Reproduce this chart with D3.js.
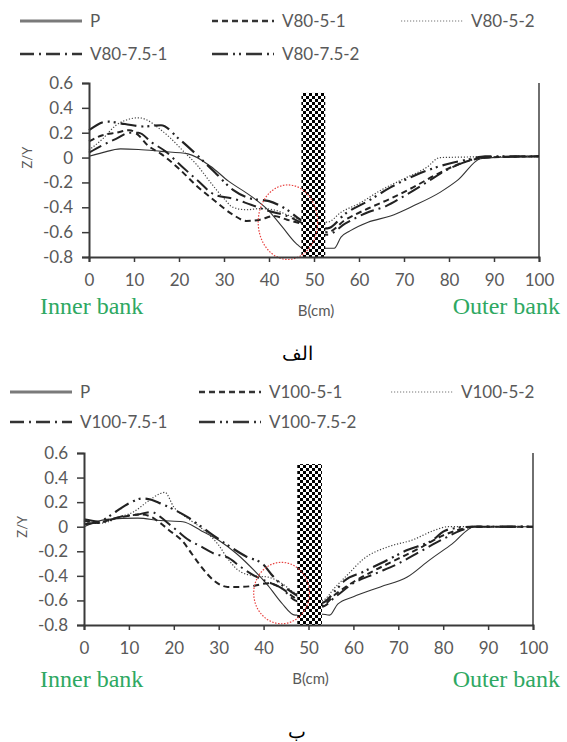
<!DOCTYPE html>
<html>
<head>
<meta charset="utf-8">
<script src="https://cdn.jsdelivr.net/npm/d3@7"></script>
<style>
  body { margin: 0; background: #fff; }
  svg { display: block; }
  .tick text { font-family: Lato, "Open Sans", sans-serif; fill: #595959; }
  .legend text { font-family: Lato, "Open Sans", sans-serif; fill: #595959; font-size: 17px; }
  .bank { font-family: "Liberation Serif", "DejaVu Serif", serif; fill: #2ea862; font-size: 24px; }
  .caption { font-family: "DejaVu Serif", "Noto Sans", serif; fill: #000; font-size: 19px; }
</style>
</head>
<body>
<svg id="chart" width="567" height="742"></svg>
<script>
"use strict";

// ---- data ----
var xTicks = [0, 10, 20, 30, 40, 50, 60, 70, 80, 90, 100];
var yTicks = [0.6, 0.4, 0.2, 0, -0.2, -0.4, -0.6, -0.8];
var yTickLabels = ["0.6", "0.4", "0.2", "0", "-0.2", "-0.4", "-0.6", "-0.8"];

var names80 = ["P", "V80-5-1", "V80-5-2", "V80-7.5-1", "V80-7.5-2"];
var names100 = ["P", "V100-5-1", "V100-5-2", "V100-7.5-1", "V100-7.5-2"];
var captions = ["الف", "ب"];

// pier (checkered bar) : [from B, to B, top Z]
var pier80 = [47.2, 52.5, 0.52];
var pier100 = [47.5, 53.0, 0.51];
// red circle : [centre B, centre Z, radius B, radius Z]
var ring80 = [44.2, -0.52, 6.6, 0.30];
var ring100 = [44.0, -0.54, 6.2, 0.25];

// panel 1 (V80)
var v80P = [[0, 0.01], [3, 0.04], [7, 0.07], [11, 0.065], [16, 0.05], [22, 0.03], [27, -0.07], [31, -0.19],
  [36, -0.31], [40, -0.43], [43, -0.56], [46, -0.69], [48, -0.74], [52.5, -0.73], [54.5, -0.73], [56, -0.64],
  [58, -0.59], [62, -0.52], [67, -0.47], [72, -0.39], [78, -0.28], [82, -0.18], [87, -0.01], [90, 0.0], [100, 0.01]];
var v80s51 = [[0, 0.13], [3, 0.18], [6, 0.2], [9, 0.22], [11, 0.18], [13, 0.1], [16, 0.03], [20, -0.09],
  [24, -0.23], [28, -0.35], [32, -0.46], [35, -0.51], [38, -0.5], [41, -0.47], [44, -0.5], [47, -0.53],
  [53, -0.6], [57, -0.5], [62, -0.41], [67, -0.33], [72, -0.24], [77, -0.14], [81, -0.07], [85, -0.02], [88, 0.0], [100, 0.01]];
var v80s52 = [[0, 0.06], [3, 0.15], [6, 0.26], [9, 0.31], [11, 0.32], [13, 0.3], [15, 0.25], [18, 0.16],
  [21, 0.05], [24, -0.06], [27, -0.2], [30, -0.33], [32, -0.4], [35, -0.42], [38, -0.41], [41, -0.42],
  [44, -0.46], [47, -0.5], [53, -0.52], [56, -0.44], [60, -0.37], [65, -0.26], [70, -0.17], [75, -0.08], [78, 0.0], [100, 0.01]];
var v80s71 = [[0, 0.04], [3, 0.1], [6, 0.15], [9, 0.2], [11, 0.2], [14, 0.12], [17, 0.05], [20, -0.05],
  [24, -0.18], [28, -0.3], [32, -0.33], [36, -0.38], [40, -0.43], [44, -0.47], [47, -0.52],
  [53, -0.62], [57, -0.53], [62, -0.44], [66, -0.39], [70, -0.31], [75, -0.2], [80, -0.09], [84, -0.03], [87, 0.0], [100, 0.01]];
var v80s72 = [[0, 0.22], [4, 0.29], [8, 0.27], [12, 0.25], [16, 0.26], [20, 0.15], [24, 0.02], [28, -0.12],
  [32, -0.26], [36, -0.33], [40, -0.35], [44, -0.42], [47, -0.5], [53, -0.57], [57, -0.45], [62, -0.35],
  [67, -0.24], [72, -0.15], [77, -0.08], [81, -0.04], [85, -0.01], [88, 0.01], [100, 0.01]];

// panel 2 (V100)
var v100P = [[0, 0], [5, 0.06], [12, 0.07], [17, 0.05], [22, 0.04], [26, -0.03], [30, -0.11], [34, -0.22],
  [38, -0.36], [41, -0.48], [44, -0.62], [47, -0.72], [52.8, -0.71], [54.7, -0.72], [56.5, -0.63], [60, -0.57],
  [66, -0.49], [72, -0.41], [77, -0.27], [82, -0.14], [87, 0.0], [100, 0.0]];
var v100s51 = [[0, 0.05], [3, 0.03], [6, 0.06], [10, 0.09], [13, 0.1], [15, 0.08], [17, 0.03], [19, -0.03],
  [22, -0.12], [24, -0.22], [26, -0.32], [29, -0.44], [32, -0.49], [35, -0.49], [38, -0.48], [41, -0.46],
  [44, -0.5], [47, -0.58], [53, -0.64], [56, -0.55], [60, -0.45], [65, -0.35], [70, -0.26], [75, -0.17],
  [80, -0.07], [84, -0.02], [87, 0.0], [100, 0.0]];
var v100s52 = [[0, 0.03], [4, 0.03], [8, 0.08], [11, 0.12], [14, 0.2], [17, 0.27], [18, 0.28], [20, 0.16],
  [23, 0.07], [25, 0.02], [28, -0.07], [30, -0.15], [32, -0.26], [35, -0.37], [38, -0.4], [41, -0.41],
  [44, -0.46], [47, -0.54], [53, -0.6], [56, -0.49], [59, -0.38], [62, -0.27], [68, -0.16], [73, -0.11],
  [78, -0.03], [81, 0.0], [100, 0.0]];
var v100s71 = [[0, 0.06], [4, 0.04], [8, 0.08], [12, 0.1], [15, 0.12], [17, 0.08], [19, 0.02], [21, -0.04],
  [23, -0.1], [26, -0.16], [29, -0.22], [32, -0.25], [35, -0.33], [38, -0.4], [41, -0.45], [44, -0.5],
  [47, -0.6], [53, -0.65], [56, -0.57], [60, -0.46], [65, -0.38], [70, -0.3], [75, -0.2], [80, -0.1],
  [84, -0.03], [87, 0.0], [100, 0.0]];
var v100s72 = [[0, 0.02], [4, 0.05], [7, 0.12], [10, 0.19], [13, 0.23], [15, 0.22], [17, 0.19], [20, 0.14],
  [23, 0.08], [25, 0.03], [28, -0.05], [32, -0.15], [36, -0.24], [40, -0.31], [42, -0.4], [45, -0.5],
  [47, -0.55], [53, -0.62], [56, -0.52], [58, -0.44], [62, -0.37], [66, -0.3], [72, -0.19], [78, -0.1],
  [80, -0.04], [83, -0.01], [87, 0.0], [100, 0.0]];

// ---- styles for the five series, same order as the names ----
var styles = [
  {dash: null, width: 1.1, color: "#333", legendWidth: 3, legendColor: "#7a7a7a"},
  {dash: "6,4", width: 2, color: "#222", legendWidth: 2.5, legendColor: "#333"},
  {dash: "1.2,1.8", width: 1.2, color: "#444", legendWidth: 1.2, legendColor: "#777"},
  {dash: "14,5,2,5", width: 2, color: "#222", legendWidth: 2.5, legendColor: "#333"},
  {dash: "16,5,2,4,2,5", width: 2.2, color: "#222", legendWidth: 2.5, legendColor: "#333"}
];

// layout of each panel
var panels = [
  {names: names80, series: [v80P, v80s51, v80s52, v80s71, v80s72], pier: pier80, ring: ring80,
   left: 89, right: 539, top: 83, bottom: 257, legendRows: [21, 54], legendCols: [20, 212, 401],
   bankY: 314, captionY: 360},
  {names: names100, series: [v100P, v100s51, v100s52, v100s71, v100s72], pier: pier100, ring: ring100,
   left: 84, right: 533, top: 453, bottom: 625, legendRows: [392, 422], legendCols: [10, 199, 391],
   bankY: 687, captionY: 738}
];

var svg = d3.select("#chart");

// checkered fill for the pier
var pat = svg.append("defs").append("pattern")
  .attr("id", "checker")
  .attr("width", 6).attr("height", 6)
  .attr("patternUnits", "userSpaceOnUse");
pat.append("rect").attr("width", 6).attr("height", 6).attr("fill", "#fff");
pat.append("rect").attr("width", 3).attr("height", 3).attr("fill", "#000");
pat.append("rect").attr("x", 3).attr("y", 3).attr("width", 3).attr("height", 3).attr("fill", "#000");

panels.forEach(function(p, pi) {
  var x = d3.scaleLinear().domain([0, 100]).range([p.left, p.right]);
  var y = d3.scaleLinear().domain([-0.8, 0.6]).range([p.bottom, p.top]);

  var g = svg.append("g");

  // series
  var line = d3.line()
    .x(function(d) { return x(d[0]); })
    .y(function(d) { return y(d[1]); })
    .curve(d3.curveMonotoneX);

  p.series.forEach(function(s, i) {
    g.append("path")
      .attr("d", line(s))
      .attr("fill", "none")
      .attr("stroke", styles[i].color)
      .attr("stroke-width", styles[i].width)
      .attr("stroke-dasharray", styles[i].dash);
  });

  // pier, drawn over the lines
  g.append("rect")
    .attr("x", x(p.pier[0]))
    .attr("y", y(p.pier[2]))
    .attr("width", x(p.pier[1]) - x(p.pier[0]))
    .attr("height", y(-0.8) - y(p.pier[2]))
    .attr("fill", "url(#checker)");

  // red dotted ring
  g.append("ellipse")
    .attr("cx", x(p.ring[0]))
    .attr("cy", y(p.ring[1]))
    .attr("rx", x(p.ring[2]) - x(0))
    .attr("ry", y(0) - y(p.ring[3]))
    .attr("fill", "none")
    .attr("stroke", "#e8413f")
    .attr("stroke-width", 1.2)
    .attr("stroke-dasharray", "1.5,1.5");

  // axes
  var xAxis = g.append("g")
    .attr("transform", "translate(0," + y(-0.8) + ")")
    .call(d3.axisBottom(x).tickValues(xTicks).tickSize(5).tickPadding(12).tickFormat(d3.format("d")));
  xAxis.selectAll("text").style("font-size", "17px");

  var yAxis = g.append("g")
    .attr("transform", "translate(" + x(0) + ",0)")
    .call(d3.axisLeft(y).tickValues(yTicks).tickSize(7).tickPadding(9)
      .tickFormat(function(d, i) { return yTickLabels[i]; }));
  yAxis.selectAll("text").style("font-size", "17px");

  [xAxis, yAxis].forEach(function(a) {
    a.select(".domain").attr("stroke", "#3a3a3a").attr("stroke-width", 2);
    a.selectAll(".tick line").attr("stroke", "#3a3a3a").attr("stroke-width", 1.5);
  });

  // right border
  g.append("line")
    .attr("x1", x(100)).attr("x2", x(100))
    .attr("y1", y(0.6)).attr("y2", y(-0.8))
    .attr("stroke", "#222").attr("stroke-width", 1.3);

  // axis titles
  g.append("text")
    .attr("transform", "translate(" + (x(0) - 62) + "," + y(0) + ") rotate(-90)")
    .attr("text-anchor", "middle")
    .attr("dy", "0.35em")
    .style("font-family", "Lato, sans-serif").style("font-size", "13px").style("fill", "#595959")
    .text("Z/Y");

  g.append("text")
    .attr("x", x(50) + 2).attr("y", y(-0.8) + 59)
    .attr("text-anchor", "middle")
    .style("font-family", "Lato, sans-serif").style("font-size", "15px").style("fill", "#595959")
    .text("B(cm)");

  g.append("text").attr("class", "bank")
    .attr("x", 40).attr("y", p.bankY)
    .text("Inner bank");
  g.append("text").attr("class", "bank")
    .attr("x", 560).attr("y", p.bankY)
    .attr("text-anchor", "end")
    .text("Outer bank");

  // legend: 3 per row
  var legend = g.append("g").attr("class", "legend");
  p.names.forEach(function(name, i) {
    var row = Math.floor(i / 3), col = i % 3;
    var lx = p.legendCols[col], ly = p.legendRows[row];
    legend.append("line")
      .attr("x1", lx).attr("x2", lx + 62)
      .attr("y1", ly).attr("y2", ly)
      .attr("stroke", styles[i].legendColor)
      .attr("stroke-width", styles[i].legendWidth)
      .attr("stroke-dasharray", styles[i].dash);
    legend.append("text")
      .attr("x", lx + 70).attr("y", ly)
      .attr("dy", "0.35em")
      .text(name);
  });

  // caption under the panel
  g.append("text").attr("class", "caption")
    .attr("x", 297).attr("y", p.captionY)
    .attr("text-anchor", "middle")
    .text(captions[pi]);
});
</script>
</body>
</html>
